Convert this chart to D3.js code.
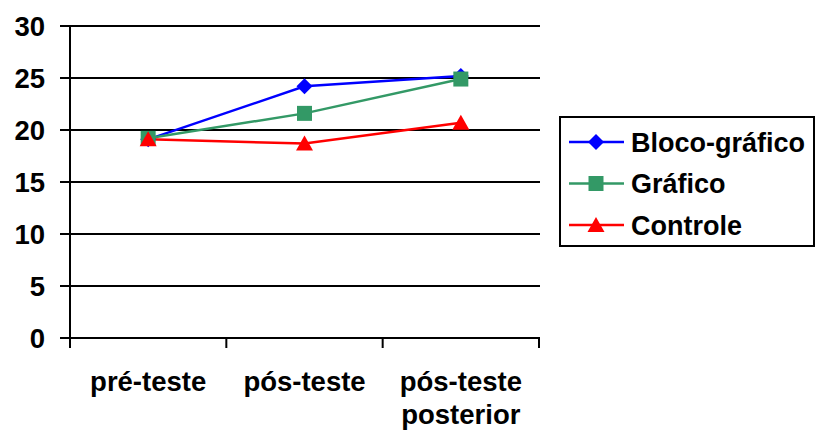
<!DOCTYPE html>
<html>
<head>
<meta charset="utf-8">
<script src="https://cdn.jsdelivr.net/npm/d3@7/dist/d3.min.js"></script>
<style>
  html, body { margin: 0; padding: 0; background: #fff; }
  svg { display: block; }
  text { font-family: "Liberation Sans", Arial, sans-serif; font-weight: bold; fill: #000; }
</style>
</head>
<body>
<svg id="chart" width="816" height="433"></svg>
<script>
const categories = ["pré-teste", "pós-teste", "pós-teste posterior"];
const categoryLabels = [["pré-teste"], ["pós-teste"], ["pós-teste", "posterior"]];
const seriesNames = ["Bloco-gráfico", "Gráfico", "Controle"];
const blocoGrafico = [19.1, 24.2, 25.2];
const grafico = [19.2, 21.6, 24.9];
const controle = [19.1, 18.7, 20.7];
const yTicks = [0, 5, 10, 15, 20, 25, 30];
const colors = ["#0000ff", "#339966", "#ff0000"];
const shapes = ["diamond", "square", "triangle"];

(function () {
const svg = d3.select("#chart");
const pLeft = 70, pRight = 539, pTop = 26, pBottom = 338;
const FS = 27.5;

const x = d3.scaleBand().domain(categories).range([pLeft, pRight]).padding(0);
const y = d3.scaleLinear().domain([0, 30]).range([pBottom, pTop]);

// gridlines
svg.append("g").selectAll("line").data(yTicks.filter(t => t > 0)).join("line")
  .attr("x1", pLeft).attr("x2", pRight + 1)
  .attr("y1", d => y(d)).attr("y2", d => y(d))
  .attr("stroke", "#000").attr("stroke-width", 2);

// y axis
svg.append("line").attr("x1", pLeft).attr("x2", pLeft).attr("y1", pTop - 1).attr("y2", pBottom + 10)
  .attr("stroke", "#000").attr("stroke-width", 2);
svg.append("g").selectAll("line").data(yTicks).join("line")
  .attr("x1", pLeft - 10).attr("x2", pLeft)
  .attr("y1", d => y(d)).attr("y2", d => y(d))
  .attr("stroke", "#000").attr("stroke-width", 2);
svg.append("g").selectAll("text").data(yTicks).join("text")
  .attr("x", 45).attr("y", d => y(d) + 10)
  .attr("text-anchor", "end").attr("font-size", FS)
  .text(d => d);

// x axis
svg.append("line").attr("x1", pLeft).attr("x2", pRight + 1).attr("y1", pBottom).attr("y2", pBottom)
  .attr("stroke", "#000").attr("stroke-width", 2);
const edges = categories.map(c => x(c)).concat([x(categories[categories.length - 1]) + x.bandwidth()]);
svg.append("g").selectAll("line").data(edges).join("line")
  .attr("x1", d => d).attr("x2", d => d)
  .attr("y1", pBottom).attr("y2", pBottom + 10)
  .attr("stroke", "#000").attr("stroke-width", 2);
categories.forEach((c, i) => {
  const cx = x(c) + x.bandwidth() / 2;
  categoryLabels[i].forEach((ln, j) => {
    svg.append("text")
      .attr("x", cx).attr("y", 391 + j * 33)
      .attr("text-anchor", "middle").attr("font-size", FS)
      .text(ln);
  });
});

// series
const data = [blocoGrafico, grafico, controle];
const symbolPath = s => s === "diamond" ? "M0,-8L8,0L0,8L-8,0Z"
  : s === "square" ? "M-7.5,-7.5H7.5V7.5H-7.5Z"
  : "M0,-8L8.5,7L-8.5,7Z";

const lineGen = d3.line().x((d, i) => x(categories[i]) + x.bandwidth() / 2).y(d => y(d));
data.forEach((vals, k) => {
  svg.append("path").datum(vals).attr("d", lineGen)
    .attr("fill", "none").attr("stroke", colors[k]).attr("stroke-width", 2.5);
});
data.forEach((vals, k) => {
  svg.append("g").selectAll("path").data(vals).join("path")
    .attr("d", symbolPath(shapes[k]))
    .attr("transform", (d, i) => `translate(${x(categories[i]) + x.bandwidth() / 2},${y(d)})`)
    .attr("fill", colors[k]);
});

// legend
const lg = svg.append("g");
lg.append("rect").attr("x", 560).attr("y", 117).attr("width", 254).attr("height", 129)
  .attr("fill", "#fff").attr("stroke", "#000").attr("stroke-width", 2);
seriesNames.forEach((name, k) => {
  const ly = 142 + k * 41.5;
  lg.append("line").attr("x1", 569).attr("x2", 624).attr("y1", ly).attr("y2", ly)
    .attr("stroke", colors[k]).attr("stroke-width", 2.5);
  lg.append("path").attr("d", symbolPath(shapes[k])).attr("transform", `translate(596,${ly})`)
    .attr("fill", colors[k]);
  lg.append("text").attr("x", 631).attr("y", ly + 9.5)
    .attr("font-size", 27).text(name);
});
})();
</script>
</body>
</html>
